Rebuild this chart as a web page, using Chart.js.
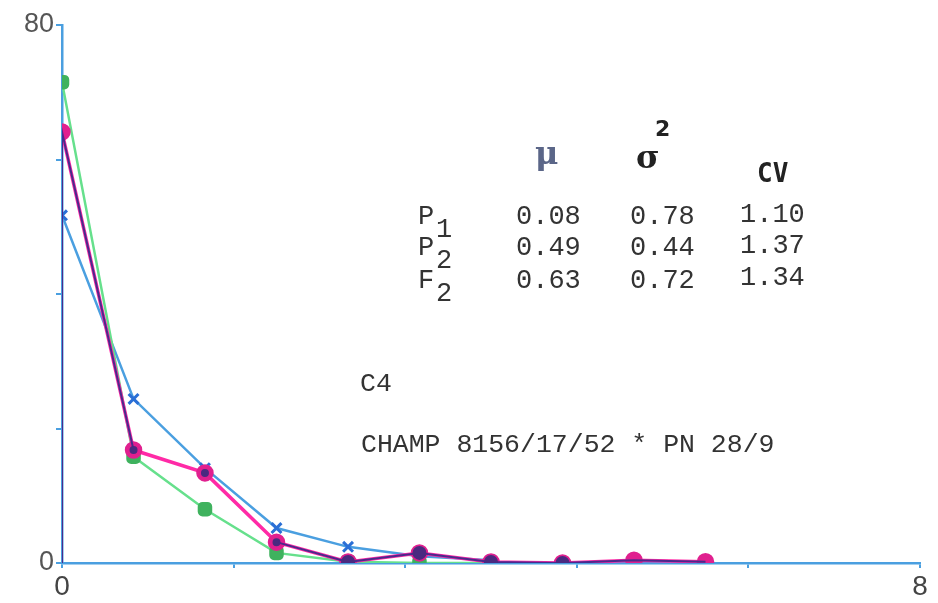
<!DOCTYPE html>
<html>
<head>
<meta charset="utf-8">
<script src="https://cdn.jsdelivr.net/npm/chart.js@4/dist/chart.umd.min.js"></script>
<style>
  html, body { margin: 0; padding: 0; background: #fff; }
  #wrap { width: 938px; height: 603px; }
</style>
</head>
<body>
<div id="wrap"><canvas id="distChart"></canvas></div>
<script>
// values
const xVals = [0, 0.667, 1.333, 2, 2.667, 3.333, 4, 4.667, 5.333, 6];
const blueVals = [51.7, 24.4, 14.1, 5.2, 2.4, 1.0, 0.4];
const greenVals = [71.5, 15.8, 8.0, 1.5, 0.2, 0, 0];
const magentaVals = [64.1, 16.8, 13.4, 3.1, 0.15, 1.5, 0.15, 0, 0.4, 0.2];
// dark trace starts at the origin and rises along the axis
const purpleX = [0, 0, 0.667, 1.333, 2, 2.667, 3.333, 4, 4.667, 5.333, 6];
const purpleVals = [0, 64.1, 16.8, 13.4, 3.1, 0.15, 1.5, 0.15, 0, 0.4, 0.2];

const xTickLabels = { 0: '0', 8: '8' };
const yTickLabels = { 0: '0', 80: '80' };

// table in the upper right
const rowNames = [['P', '1'], ['P', '2'], ['F', '2']];
const muVals = ['0.08', '0.49', '0.63'];
const varVals = ['0.78', '0.44', '0.72'];
const cvVals = ['1.10', '1.37', '1.34'];

function pts(xs, ys) {
    return ys.map((y, i) => ({ x: xs[i], y: y }));
}

const typeFont = '"Liberation Mono", "DejaVu Sans Mono", monospace';

const notesPlugin = {
    id: 'notes',
    afterDraw(chart) {
        const ctx = chart.ctx;
        ctx.save();
        ctx.textBaseline = 'alphabetic';

        // headers
        ctx.font = 'bold 32px "DejaVu Serif", serif';
        ctx.fillStyle = '#5b6688';
        ctx.fillText('\u03BC', 535, 164);
        ctx.fillStyle = '#222';
        ctx.fillText('\u03C3', 636, 168);
        ctx.font = 'bold 22px "DejaVu Sans", sans-serif';
        ctx.fillText('2', 655, 136);
        ctx.font = 'bold 26px "DejaVu Sans Mono", monospace';
        ctx.fillText('CV', 757, 182);

        // rows
        ctx.fillStyle = '#333';
        const rowY = [224, 255, 288];
        const cvY = [222, 253, 285];
        for (let i = 0; i < 3; i++) {
            ctx.font = '27px ' + typeFont;
            ctx.fillText(rowNames[i][0], 418, rowY[i]);
            ctx.fillText(rowNames[i][1], 436, rowY[i] + 13);
            ctx.fillText(muVals[i], 516, rowY[i]);
            ctx.fillText(varVals[i], 630, rowY[i]);
            ctx.fillText(cvVals[i], 740, cvY[i]);
        }

        ctx.font = '26.5px ' + typeFont;
        ctx.fillText('C4', 360, 391);
        ctx.fillText('CHAMP 8156/17/52 * PN 28/9', 361, 452);
        ctx.restore();
    }
};

const ctx = document.getElementById('distChart').getContext('2d');
const chart = new Chart(ctx, {
    type: 'line',
    data: {
        datasets: [{
            label: 'blue',
            data: pts(xVals, blueVals),
            borderColor: '#4a9fe0',
            backgroundColor: '#2a6fd6',
            pointBorderColor: '#2a6fd6',
            borderWidth: 2.5,
            pointStyle: 'crossRot',
            pointRadius: 7,
            pointBorderWidth: 3,
            order: 3
        }, {
            label: 'green',
            data: pts(xVals, greenVals),
            borderColor: '#66e08c',
            backgroundColor: '#3fb25e',
            pointBorderColor: '#3fb25e',
            borderWidth: 2.5,
            pointStyle: 'rectRounded',
            pointRadius: 7,
            order: 2
        }, {
            label: 'magenta',
            data: pts(xVals, magentaVals),
            borderColor: '#ff2aa6',
            backgroundColor: '#e0208f',
            pointBorderColor: '#e0208f',
            borderWidth: 3.5,
            pointStyle: 'circle',
            pointRadius: 7,
            order: 1
        }, {
            label: 'purple',
            data: pts(purpleX, purpleVals),
            borderColor: '#4b2a8c',
            backgroundColor: '#4a2a80',
            pointBorderColor: '#4a2a80',
            borderWidth: 2,
            pointStyle: 'circle',
            pointRadius: [0, 0, 3, 3, 3, 6, 6, 6, 6, 0, 0],
            segment: {
                // the pink trace shows through over the first drop
                borderColor: c => (c.p0DataIndex === 2 || c.p0DataIndex === 3) ? 'rgba(0,0,0,0)' : undefined
            },
            order: 0
        }]
    },
    options: {
        responsive: true,
        maintainAspectRatio: false,
        animation: false,
        layout: { padding: { left: 0, top: 25, right: 18, bottom: 0 } },
        plugins: {
            legend: { display: false },
            tooltip: { enabled: false }
        },
        elements: { line: { tension: 0 } },
        scales: {
            x: {
                type: 'linear',
                min: 0,
                max: 8,
                afterFit: s => { s.height = 40; },
                ticks: {
                    stepSize: 1.6,
                    autoSkip: false,
                    maxRotation: 0,
                    color: '#444',
                    font: { family: '"Liberation Sans", Arial, sans-serif', size: 28 },
                    padding: 2,
                    callback: v => xTickLabels[Math.round(v * 100) / 100] || ''
                },
                grid: {
                    drawOnChartArea: false,
                    color: '#4a9fe0',
                    tickLength: 5,
                    lineWidth: 2
                },
                border: { color: '#4a9fe0', width: 2.5 }
            },
            y: {
                min: 0,
                max: 80,
                afterFit: s => { s.width = 62; },
                ticks: {
                    stepSize: 20,
                    color: '#555',
                    font: { family: '"Liberation Sans", Arial, sans-serif', size: 27 },
                    padding: 2,
                    callback: v => yTickLabels[v] || ''
                },
                grid: {
                    drawOnChartArea: false,
                    color: '#4a9fe0',
                    tickLength: 6,
                    lineWidth: 2
                },
                border: { color: '#4a9fe0', width: 2.5 }
            }
        }
    },
    plugins: [notesPlugin]
});
</script>
</body>
</html>
